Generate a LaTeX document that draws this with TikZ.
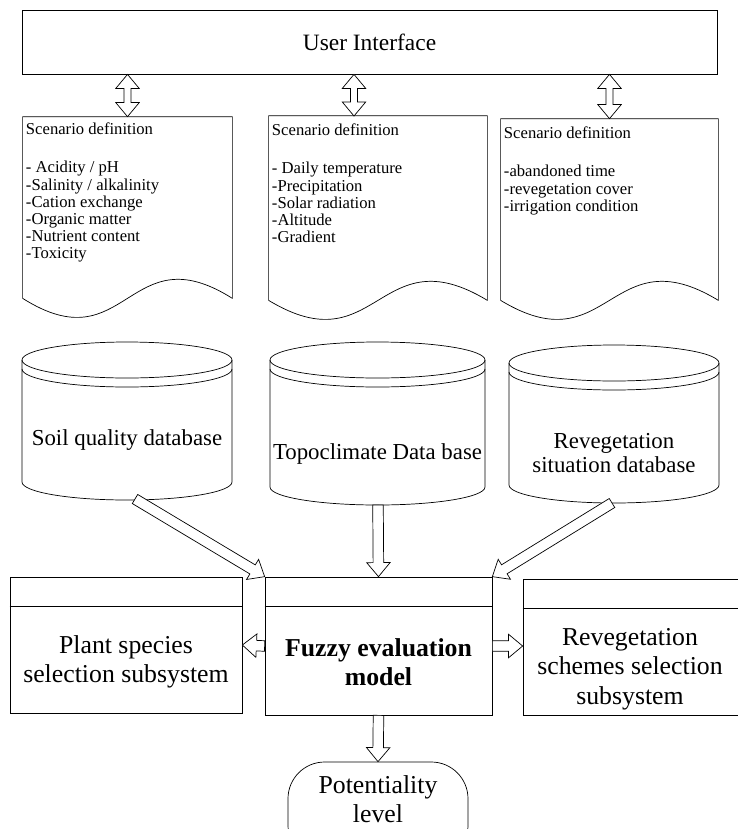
\documentclass[tikz,border=0pt]{standalone}
\usepackage{fontspec}
\setmainfont{Liberation Serif}
\usetikzlibrary{calc, positioning, shapes.misc}

% hollow block arrows (argument = half width of the shaft)
\tikzset{
  hollow/.style={draw, fill=white, to path={
      (\tikztostart) coordinate (ht0) (\tikztotarget) coordinate (ht2)
      ($(ht2)!12pt!(ht0)$) coordinate (ht1)
      ($(ht0)!#1!90:(ht2)$) -- ($(ht1)!#1!90:(ht2)$) -- ($(ht1)!10pt!90:(ht2)$) -- (ht2)
      -- ($(ht1)!10pt!-90:(ht2)$) -- ($(ht1)!#1!-90:(ht2)$) -- ($(ht0)!#1!-90:(ht2)$) -- cycle}},
  hollowboth/.style={draw, fill=white, to path={
      (\tikztostart) coordinate (hb0) (\tikztotarget) coordinate (hb3)
      ($(hb0)!12pt!(hb3)$) coordinate (hb1) ($(hb3)!12pt!(hb0)$) coordinate (hb2)
      (hb0) -- ($(hb1)!10pt!90:(hb3)$) -- ($(hb1)!#1!90:(hb3)$) -- ($(hb2)!#1!90:(hb3)$)
      -- ($(hb2)!10pt!90:(hb3)$) -- (hb3) -- ($(hb2)!10pt!-90:(hb3)$) -- ($(hb2)!#1!-90:(hb3)$)
      -- ($(hb1)!#1!-90:(hb3)$) -- ($(hb1)!10pt!-90:(hb3)$) -- cycle}},
  uibox/.style={draw, inner sep=0pt, minimum width=20.85cm, minimum height=1.92cm,
      font=\fontsize{20}{24}\selectfont},
  docarea/.style={inner sep=0pt},
  doctext/.style={anchor=north west, align=left, inner sep=0pt,
      font=\fontsize{14.2}{14.6}\selectfont},
  dblabel/.style={align=center, inner sep=0pt, font=\fontsize{19.5}{20}\selectfont},
  subbox/.style={draw, inner sep=0pt},
  subtext/.style={align=center, inner sep=0pt, font=\fontsize{22}{25}\selectfont},
  potbox/.style={draw, rectangle, rounded corners=1.1cm, inner sep=0pt,
      minimum width=5.4cm, minimum height=3cm}
}

% database cylinder: left x, right x, top y, lower end of the sides
\newcommand{\dbcylinder}[4]{%
  \draw ({(#1+#2)/2},{#3+18}) ellipse [x radius={(#2-#1)*0.015cm}, y radius=0.54cm];
  \draw (#1,{#3+18}) -- (#1,#4)
        arc [start angle=180, end angle=360, x radius={(#2-#1)*0.015cm}, y radius=0.54cm]
        -- (#2,{#3+18});
  \draw (#1,{#3+27})
        arc [start angle=180, end angle=360, x radius={(#2-#1)*0.015cm}, y radius=0.54cm];
}

\begin{document}
\begin{tikzpicture}[x=0.03cm, y=-0.03cm, line width=0.6pt]
  \useasboundingbox (0,0) rectangle (738,829);

  % user interface
  \node[uibox] (ui) at (369.5,42) {User Interface};

  % scenario definitions
  \node[docarea, minimum width=6.27cm, minimum height=5.43cm] (doc1) at (127.5,207.5) {};
  \draw (doc1.south west) -- (doc1.north west) -- (doc1.north east) -- (doc1.south east)
        .. controls +(-104.5,-66) and +(104.5,66) .. (doc1.south west);
  \node[doctext] (doc1text) at ([shift={(3,6)}]doc1.north west)
        {Scenario definition\\[18pt]- Acidity / pH\\-Salinity / alkalinity\\-Cation exchange\\-Organic matter\\-Nutrient content\\-Toxicity};

  \node[docarea, minimum width=6.54cm, minimum height=5.52cm] (doc2) at (378,208) {};
  \draw (doc2.south west) -- (doc2.north west) -- (doc2.north east) -- (doc2.south east)
        .. controls +(-109,-66) and +(109,66) .. (doc2.south west);
  \node[doctext] (doc2text) at ([shift={(3,8)}]doc2.north west)
        {Scenario definition\\[18pt]- Daily temperature\\-Precipitation\\-Solar radiation\\-Altitude\\-Gradient};

  \node[docarea, minimum width=6.51cm, minimum height=5.43cm] (doc3) at (609.5,209.5) {};
  \draw (doc3.south west) -- (doc3.north west) -- (doc3.north east) -- (doc3.south east)
        .. controls +(-108.5,-66) and +(108.5,66) .. (doc3.south west);
  \node[doctext] (doc3text) at ([shift={(3,8)}]doc3.north west)
        {Scenario definition\\[18pt]-abandoned time\\-revegetation cover\\-irrigation condition};

  % databases
  \dbcylinder{22}{232}{342}{482}
  \node[dblabel] (soil) at (127,440) {Soil quality database};
  \coordinate (soilbot) at (135,499);

  \dbcylinder{270}{485}{342}{487}
  \node[dblabel] (topo) at (377.5,454) {Topoclimate Data base};
  \coordinate (topobot) at (378,505);

  \dbcylinder{509}{719}{345}{485}
  \node[dblabel] (reveg) at (614,453) {Revegetation\\situation database};
  \coordinate (revegbot) at (612,503);

  % subsystems and model
  \node[subbox, minimum width=6.96cm, minimum height=4.08cm] (plant) at (126,645) {};
  \draw ($(plant.north west)+(0,30)$) -- ($(plant.north east)+(0,30)$);
  \node[subtext] (planttext) at (126,662) {Plant species\\selection subsystem};

  \node[subbox, minimum width=6.81cm, minimum height=4.14cm] (fuzzy) at (378.5,646) {};
  \draw ($(fuzzy.north west)+(0,30)$) -- ($(fuzzy.north east)+(0,30)$);
  \node[subtext, font=\fontsize{22}{25}\selectfont\bfseries] (fuzzytext) at (378.5,662) {Fuzzy evaluation\\model};

  \node[subbox, minimum width=6.66cm, minimum height=4.08cm] (scheme) at (634,647) {};
  \draw ($(scheme.north west)+(0,30)$) -- ($(scheme.north east)+(0,30)$);
  \node[subtext] (schemetext) at (630,669) {Revegetation\\schemes selection\\subsystem};

  % result
  \node[potbox] (pot) at (378,812) {};
  \node[subtext] (pottext) at (378,799) {Potentiality\\level};

  % connections
  \coordinate (doc2tip) at (354,116);
  \draw[hollowboth=3pt] (doc1.north |- ui.south) to (doc1.north);
  \draw[hollowboth=3pt] (doc2tip |- ui.south) to (doc2tip);
  \draw[hollowboth=3pt] (doc3.north |- ui.south) to (doc3.north);
  \draw[hollow=4.5pt] (soilbot) to (fuzzy.north west);
  \draw[hollow=4.5pt] (topobot) to (fuzzy.north);
  \draw[hollow=4.5pt] (revegbot) to (fuzzy.north east);
  \draw[hollow=4.5pt] (fuzzy.west) to (plant.east);
  \draw[hollow=4.5pt] (fuzzy.east) to (scheme.west |- fuzzy.east);
  \draw[hollow=4.5pt] (fuzzy.south) to (pot.north);
\end{tikzpicture}
\end{document}
